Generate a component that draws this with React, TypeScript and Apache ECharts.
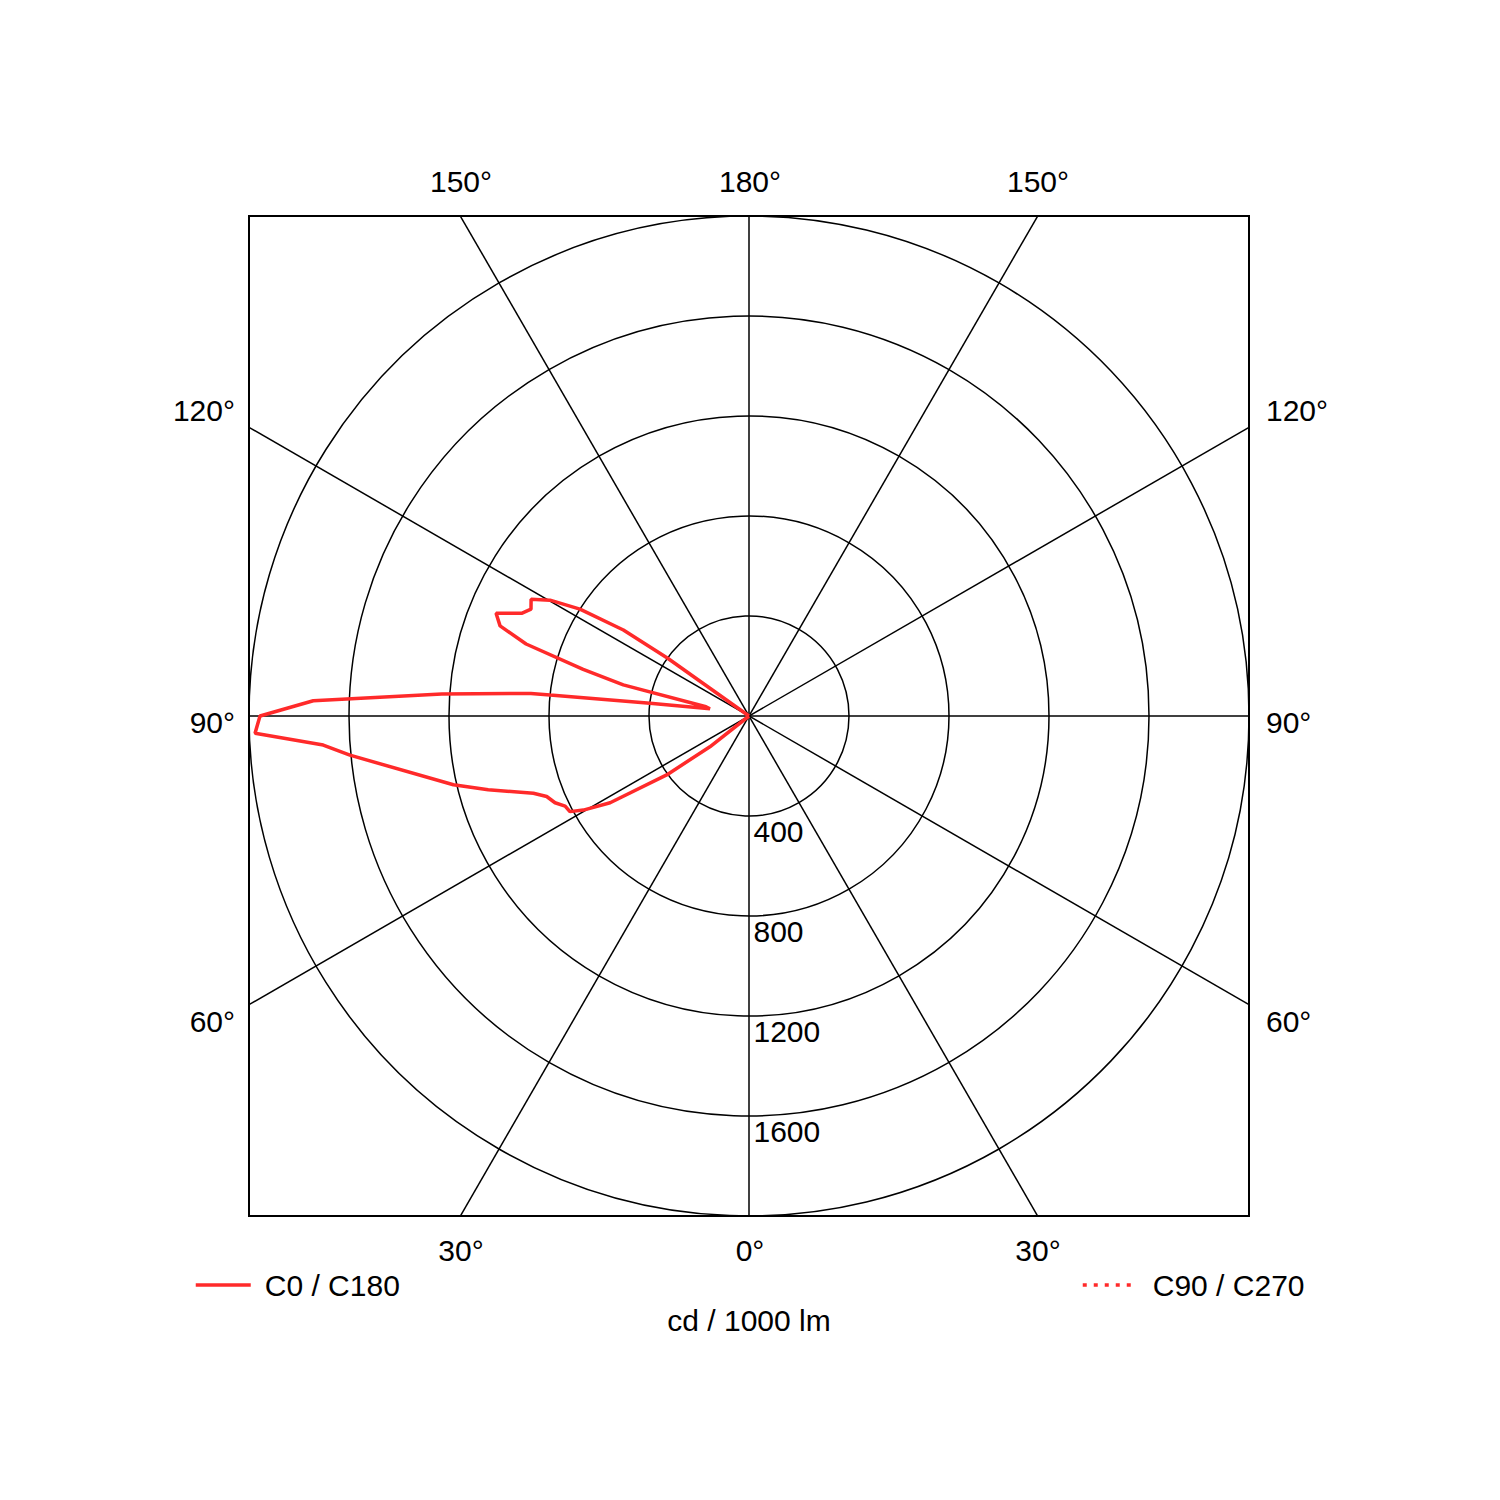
import React, { useEffect, useRef } from "react";
import * as echarts from "echarts";

// C0 / C180 intensity curve (angle in degrees, 0 = nadir, value in cd/1000 lm)
const c0Angles = [127, 125.4, 124.4, 122.3, 120.2, 118.2, 116.1, 114.3, 112.1, 109.9, 107.9, 105.7, 103.9, 102.2, 100.6, 97.3, 96.0, 95.9, 94.1, 92.0, 90.0, 88.0, 86.1, 84.4, 76.9, 74.2, 70.3, 68.3, 65.9, 63.9, 61.9, 60.4, 58.0, 54.4, 51.8, 50];
const c0Values = [0, 399, 609, 800, 921, 989, 971, 998, 1092, 1059, 937, 689, 518, 176, 159, 399, 800, 877, 1232, 1744, 1956, 1977, 1707, 1604, 1214, 1084, 916, 871, 850, 819, 812, 762, 655, 405, 199, 0];

// C90 / C270 (no data drawn in the reference)
const c90Angles: number[] = [];
const c90Values: number[] = [];

const radiusTicks = [400, 800, 1200, 1600];
const radialLineAngles = [0, 30, 60, 90, 120, 150];

const topLabels = ["150°", "180°", "150°"];
const bottomLabels = ["30°", "0°", "30°"];
const sideLabels = ["120°", "90°", "60°"];
const unitLabel = "cd / 1000 lm";
const seriesNames = ["C0 / C180", "C90 / C270"];

const FONT = "'Liberation Sans', Arial, sans-serif";
const RED = "#ff2a2a";

export default function App() {
  const ref = useRef<HTMLDivElement>(null);

  useEffect(() => {
    if (!ref.current) return;
    const chart = echarts.init(ref.current, undefined, { renderer: "svg" });

    const R = 2000;
    const radialSeries = radialLineAngles.map((a) => {
      const rad = (a * Math.PI) / 180;
      const dx = -Math.sin(rad);
      const dy = -Math.cos(rad);
      const t = R / Math.max(Math.abs(dx), Math.abs(dy));
      return {
        type: "line",
        xAxisIndex: 0,
        yAxisIndex: 0,
        data: [
          [dx * t, dy * t],
          [-dx * t, -dy * t],
        ],
        symbol: "none",
        silent: true,
        lineStyle: { color: "#000", width: 1.5 },
        z: 2,
      };
    });

    const textStyle = { fill: "#000", fontSize: 30, fontFamily: FONT };
    const topX = [461, 750, 1038];
    const sideY = [410, 722, 1021];
    const graphics: any[] = [];
    topLabels.forEach((t, i) =>
      graphics.push({ type: "text", x: topX[i], y: 181, style: { ...textStyle, text: t, align: "center", verticalAlign: "middle" } })
    );
    bottomLabels.forEach((t, i) =>
      graphics.push({ type: "text", x: topX[i], y: 1250, style: { ...textStyle, text: t, align: "center", verticalAlign: "middle" } })
    );
    sideLabels.forEach((t, i) => {
      graphics.push({ type: "text", x: 235, y: sideY[i], style: { ...textStyle, text: t, align: "right", verticalAlign: "middle" } });
      graphics.push({ type: "text", x: 1266, y: sideY[i], style: { ...textStyle, text: t, align: "left", verticalAlign: "middle" } });
    });
    graphics.push({ type: "text", x: 749, y: 1320, style: { ...textStyle, text: unitLabel, align: "center", verticalAlign: "middle" } });

    const legendText = { fontSize: 30, fontFamily: FONT, color: "#000" };

    chart.setOption({
      animation: false,
      backgroundColor: "#fff",
      grid: {
        left: 249,
        top: 216,
        width: 1000,
        height: 1000,
        show: true,
        borderColor: "#000",
        borderWidth: 2,
        backgroundColor: "transparent",
      },
      xAxis: { type: "value", min: -R, max: R, show: false },
      yAxis: { type: "value", min: -R, max: R, show: false },
      polar: { center: [749, 716], radius: 500 },
      angleAxis: {
        type: "value",
        min: 0,
        max: 360,
        startAngle: 270,
        clockwise: true,
        interval: 30,
        axisLine: { show: false },
        axisTick: { show: false },
        axisLabel: { show: false },
        splitLine: { show: false },
      },
      radiusAxis: {
        type: "value",
        min: 0,
        max: R,
        interval: 400,
        axisLine: { show: false },
        axisTick: { show: false },
        axisLabel: { show: false },
        splitLine: { show: true, lineStyle: { color: "#000", width: 1.5 } },
      },
      legend: [
        {
          data: [seriesNames[0]],
          left: 189,
          top: 1265,
          itemWidth: 55,
          itemHeight: 14,
          itemStyle: { opacity: 0 },
          lineStyle: { width: 3.5, color: RED },
          textStyle: { ...legendText, padding: [0, 0, 0, 9] },
        },
        {
          data: [seriesNames[1]],
          left: 1076,
          top: 1265,
          itemWidth: 50,
          itemHeight: 14,
          itemStyle: { opacity: 0 },
          lineStyle: { width: 3.5, color: RED, type: [4, 7] },
          textStyle: { ...legendText, padding: [0, 0, 0, 15] },
        },
      ],
      graphic: graphics,
      series: [
        ...radialSeries,
        {
          name: seriesNames[0],
          type: "line",
          coordinateSystem: "polar",
          data: c0Values.map((v, i) => [v, c0Angles[i]]),
          symbol: "none",
          clip: false,
          lineStyle: { color: RED, width: 3.5 },
          itemStyle: { color: RED },
          z: 10,
        },
        {
          name: seriesNames[1],
          type: "line",
          coordinateSystem: "polar",
          data: c90Values.map((v, i) => [v, c90Angles[i]]),
          symbol: "none",
          lineStyle: { color: RED, width: 3.5, type: [4, 7] },
          itemStyle: { color: RED },
          z: 10,
        },
        {
          type: "scatter",
          coordinateSystem: "polar",
          data: radiusTicks.map((v) => [v, 0]),
          symbolSize: 1,
          itemStyle: { color: "transparent" },
          silent: true,
          label: {
            show: true,
            formatter: (p: any) => String(p.value[0]),
            position: [5, 16],
            align: "left",
            verticalAlign: "middle",
            fontSize: 30,
            fontFamily: FONT,
            color: "#000",
            opacity: 1,
          },
          z: 5,
        },
      ],
    });

    return () => chart.dispose();
  }, []);

  return (
    <div
      ref={ref}
      style={{ position: "absolute", left: 0, top: 0, width: 1500, height: 1500 }}
    />
  );
}
